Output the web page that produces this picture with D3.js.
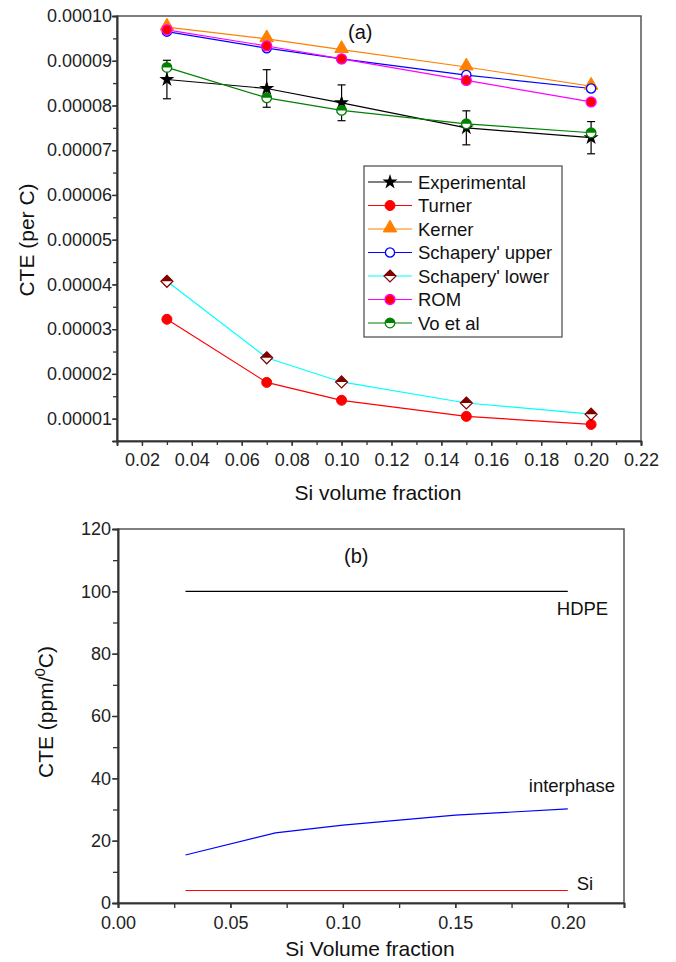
<!DOCTYPE html>
<html>
<head>
<meta charset="utf-8">
<script src="https://cdn.jsdelivr.net/npm/d3@7"></script>
<style>
  html, body { margin: 0; padding: 0; background: #fff; }
  svg { display: block; font-family: "Liberation Sans", Arial, sans-serif; }
</style>
</head>
<body>
<svg id="chart" width="676" height="962"></svg>
<script>
// Panel (a): CTE of HDPE/Si composites vs Si volume fraction
const fractions = [0.03, 0.07, 0.10, 0.15, 0.20];
const experimental = [0.0000858, 0.0000838, 0.0000806, 0.0000750, 0.0000728];
const experimentalErr = [0.0000043, 0.0000042, 0.0000040, 0.0000038, 0.0000036];
const turner = [0.0000322, 0.0000181, 0.0000141, 0.0000105, 0.0000087];
const kerner = [0.0000975, 0.0000949, 0.0000925, 0.0000886, 0.0000843];
const schaperyUpper = [0.0000965, 0.0000928, 0.0000904, 0.0000868, 0.0000838];
const schaperyLower = [0.0000407, 0.0000236, 0.0000182, 0.0000135, 0.0000110];
const rom = [0.0000969, 0.0000933, 0.0000904, 0.0000856, 0.0000808];
const voEtAl = [0.0000885, 0.0000817, 0.0000789, 0.0000759, 0.0000739];
const seriesNames = ["Experimental", "Turner", "Kerner", "Schapery' upper", "Schapery' lower", "ROM", "Vo et al"];
const yTicksA = [0.00001, 0.00002, 0.00003, 0.00004, 0.00005, 0.00006, 0.00007, 0.00008, 0.00009, 0.00010];
const xTicksA = [0.02, 0.04, 0.06, 0.08, 0.10, 0.12, 0.14, 0.16, 0.18, 0.20, 0.22];

// Panel (b): component CTEs (ppm/°C)
const hdpe = [100, 100, 100, 100, 100];
const interphase = [15.4, 22.5, 25.0, 28.2, 30.2];
const silicon = [4, 4, 4, 4, 4];
const yTicksB = [0, 20, 40, 60, 80, 100, 120];
const xTicksB = [0.00, 0.05, 0.10, 0.15, 0.20];

const svg = d3.select("#chart");
const AXIS = "#333";

function frame(g, x, y) {
  const [x0, x1] = x.range();
  const [y0, y1] = y.range();
  g.append("rect")
    .attr("x", x0).attr("y", y1)
    .attr("width", x1 - x0).attr("height", y0 - y1)
    .attr("fill", "none").attr("stroke", "#555").attr("stroke-width", 1.5);
}

function styleAxis(sel) {
  sel.select(".domain").attr("stroke", AXIS).attr("stroke-width", 1.6);
  sel.selectAll(".tick line").attr("stroke", AXIS).attr("stroke-width", 1.3);
  sel.selectAll(".tick text").attr("fill", "#222").style("font-size", "18px");
}

// ---------- panel (a) ----------
const xa = d3.scaleLinear().domain([0.01, 0.22]).range([117, 641]);
const ya = d3.scaleLinear().domain([0.000005, 0.0001]).range([441, 16]);
const ga = svg.append("g");
frame(ga, xa, ya);

// minor ticks
ga.append("g").attr("transform", `translate(0,441)`)
  .call(d3.axisBottom(xa).tickValues(d3.range(0.01, 0.2201, 0.01)).tickSize(4).tickFormat(""))
  .call(styleAxis);
ga.append("g").attr("transform", `translate(117,0)`)
  .call(d3.axisLeft(ya).tickValues(d3.range(0.000005, 0.0001001, 0.000005)).tickSize(4).tickFormat(""))
  .call(styleAxis);
// major ticks
ga.append("g").attr("transform", `translate(0,441)`)
  .call(d3.axisBottom(xa).tickValues(xTicksA).tickSize(5).tickPadding(7).tickFormat(d3.format(".2f")))
  .call(styleAxis);
ga.append("g").attr("transform", `translate(117,0)`)
  .call(d3.axisLeft(ya).tickValues(yTicksA).tickSize(5).tickPadding(0).tickFormat(d3.format(".5f")))
  .call(styleAxis);

ga.append("text").attr("x", 378).attr("y", 500).attr("text-anchor", "middle")
  .style("font-size", "21px").attr("fill", "#111").text("Si volume fraction");
ga.append("text").attr("transform", "translate(34,240) rotate(-90)").attr("text-anchor", "middle")
  .style("font-size", "21px").attr("fill", "#111").text("CTE (per C)");
ga.append("text").attr("x", 348).attr("y", 39)
  .style("font-size", "20px").attr("fill", "#111").text("(a)");

const sym = (type, size) => d3.symbol().type(type).size(size)();
const halfCirclePath = (r) => `M${-r},0A${r},${r} 0 0,1 ${r},0Z`;
const halfDiamondPath = (r) => `M${-r},0L0,${-r}L${r},0Z`;

function drawMarker(g, kind) {
  switch (kind) {
    case "star":
      g.append("path").attr("d", sym(d3.symbolStar, 70)).attr("fill", "#000");
      break;
    case "dotRed":
      g.append("circle").attr("r", 5).attr("fill", "#ff0000").attr("stroke", "#ff0000");
      break;
    case "triangle":
      g.append("path").attr("d", sym(d3.symbolTriangle, 80)).attr("transform", "translate(0,-1)")
        .attr("fill", "#ff8000").attr("stroke", "#ff8000");
      break;
    case "openBlue":
      g.append("circle").attr("r", 4.6).attr("fill", "#fff").attr("stroke", "#0000ff").attr("stroke-width", 1.3);
      break;
    case "halfDiamond":
      g.append("path").attr("d", "M0,-6L6,0L0,6L-6,0Z").attr("fill", "#fff").attr("stroke", "#800000").attr("stroke-width", 1.2);
      g.append("path").attr("d", halfDiamondPath(6)).attr("fill", "#800000");
      break;
    case "romDot":
      g.append("circle").attr("r", 5).attr("fill", "#ff0000").attr("stroke", "#ff00ff").attr("stroke-width", 1.3);
      break;
    case "halfGreen":
      g.append("circle").attr("r", 4.8).attr("fill", "#fff").attr("stroke", "#008000").attr("stroke-width", 1.3);
      g.append("path").attr("d", halfCirclePath(4.8)).attr("fill", "#008000");
      break;
  }
}

const seriesA = [
  { name: seriesNames[0], values: experimental, color: "#000000", marker: "star" },
  { name: seriesNames[1], values: turner, color: "#ff0000", marker: "dotRed" },
  { name: seriesNames[2], values: kerner, color: "#ff8000", marker: "triangle" },
  { name: seriesNames[3], values: schaperyUpper, color: "#0000ff", marker: "openBlue" },
  { name: seriesNames[4], values: schaperyLower, color: "#00ffff", marker: "halfDiamond" },
  { name: seriesNames[5], values: rom, color: "#ff00ff", marker: "romDot" },
  { name: seriesNames[6], values: voEtAl, color: "#008000", marker: "halfGreen" }
];

const lineA = d3.line().x(d => xa(d[0])).y(d => ya(d[1]));
seriesA.forEach(s => {
  ga.append("path").datum(fractions.map((f, i) => [f, s.values[i]]))
    .attr("d", lineA).attr("fill", "none").attr("stroke", s.color).attr("stroke-width", 1.2);
});

// error bars on experimental data
const eb = ga.append("g").attr("stroke", "#000").attr("stroke-width", 1.2);
fractions.forEach((f, i) => {
  const cx = xa(f), top = ya(experimental[i] + experimentalErr[i]), bot = ya(experimental[i] - experimentalErr[i]);
  eb.append("line").attr("x1", cx).attr("x2", cx).attr("y1", top).attr("y2", bot);
  eb.append("line").attr("x1", cx - 4).attr("x2", cx + 4).attr("y1", top).attr("y2", top);
  eb.append("line").attr("x1", cx - 4).attr("x2", cx + 4).attr("y1", bot).attr("y2", bot);
});

seriesA.forEach(s => {
  fractions.forEach((f, i) => {
    drawMarker(ga.append("g").attr("transform", `translate(${xa(f)},${ya(s.values[i])})`), s.marker);
  });
});

// legend
const lg = ga.append("g").attr("transform", "translate(364,166)");
lg.append("rect").attr("width", 198).attr("height", 171).attr("fill", "#fff")
  .attr("stroke", "#555").attr("stroke-width", 1.3);
seriesA.forEach((s, i) => {
  const row = lg.append("g").attr("transform", `translate(0,${16 + i * 23.5})`);
  row.append("line").attr("x1", 4).attr("x2", 48).attr("y1", 0).attr("y2", 0)
    .attr("stroke", s.color).attr("stroke-width", 1.2);
  drawMarker(row.append("g").attr("transform", "translate(26,0)"), s.marker);
  row.append("text").attr("x", 54).attr("y", 6.5).style("font-size", "18.5px").attr("fill", "#111").text(s.name);
});

// ---------- panel (b) ----------
const xb = d3.scaleLinear().domain([0, 0.225]).range([118, 624]);
const yb = d3.scaleLinear().domain([0, 120]).range([903, 529]);
const gb = svg.append("g");
frame(gb, xb, yb);

gb.append("g").attr("transform", "translate(0,903)")
  .call(d3.axisBottom(xb).tickValues(d3.range(0, 0.2251, 0.025)).tickSize(5).tickFormat(""))
  .call(styleAxis);
gb.append("g").attr("transform", "translate(118,0)")
  .call(d3.axisLeft(yb).tickValues(d3.range(0, 121, 10)).tickSize(5).tickFormat(""))
  .call(styleAxis);
gb.append("g").attr("transform", "translate(0,903)")
  .call(d3.axisBottom(xb).tickValues(xTicksB).tickSize(5).tickPadding(8).tickFormat(d3.format(".2f")))
  .call(styleAxis);
gb.append("g").attr("transform", "translate(118,0)")
  .call(d3.axisLeft(yb).tickValues(yTicksB).tickSize(6).tickPadding(1).tickFormat(d3.format("d")))
  .call(styleAxis);

gb.append("text").attr("x", 370).attr("y", 956).attr("text-anchor", "middle")
  .style("font-size", "21px").attr("fill", "#111").text("Si Volume fraction");
const yLabelB = gb.append("text").attr("transform", "translate(53,712) rotate(-90)").attr("text-anchor", "middle")
  .style("font-size", "21px").attr("fill", "#111");
yLabelB.append("tspan").text("CTE (ppm/");
yLabelB.append("tspan").attr("dy", -8).style("font-size", "15px").text("0");
yLabelB.append("tspan").attr("dy", 8).text("C)");
gb.append("text").attr("x", 344).attr("y", 563)
  .style("font-size", "20px").attr("fill", "#111").text("(b)");

const lineB = d3.line().x(d => xb(d[0])).y(d => yb(d[1]));
const seriesB = [
  { name: "HDPE", values: hdpe, color: "#000000", dx: -11, dy: 24 },
  { name: "interphase", values: interphase, color: "#0000ff", dx: -39, dy: -17 },
  { name: "Si", values: silicon, color: "#ff0000", dx: 9, dy: -1 }
];
seriesB.forEach(s => {
  gb.append("path").datum(fractions.map((f, i) => [f, s.values[i]]))
    .attr("d", lineB).attr("fill", "none").attr("stroke", s.color).attr("stroke-width", 1.1);
  const last = fractions.length - 1;
  gb.append("text").attr("x", xb(fractions[last]) + s.dx).attr("y", yb(s.values[last]) + s.dy)
    .style("font-size", "18.5px").attr("fill", "#111").text(s.name);
});
</script>
</body>
</html>
